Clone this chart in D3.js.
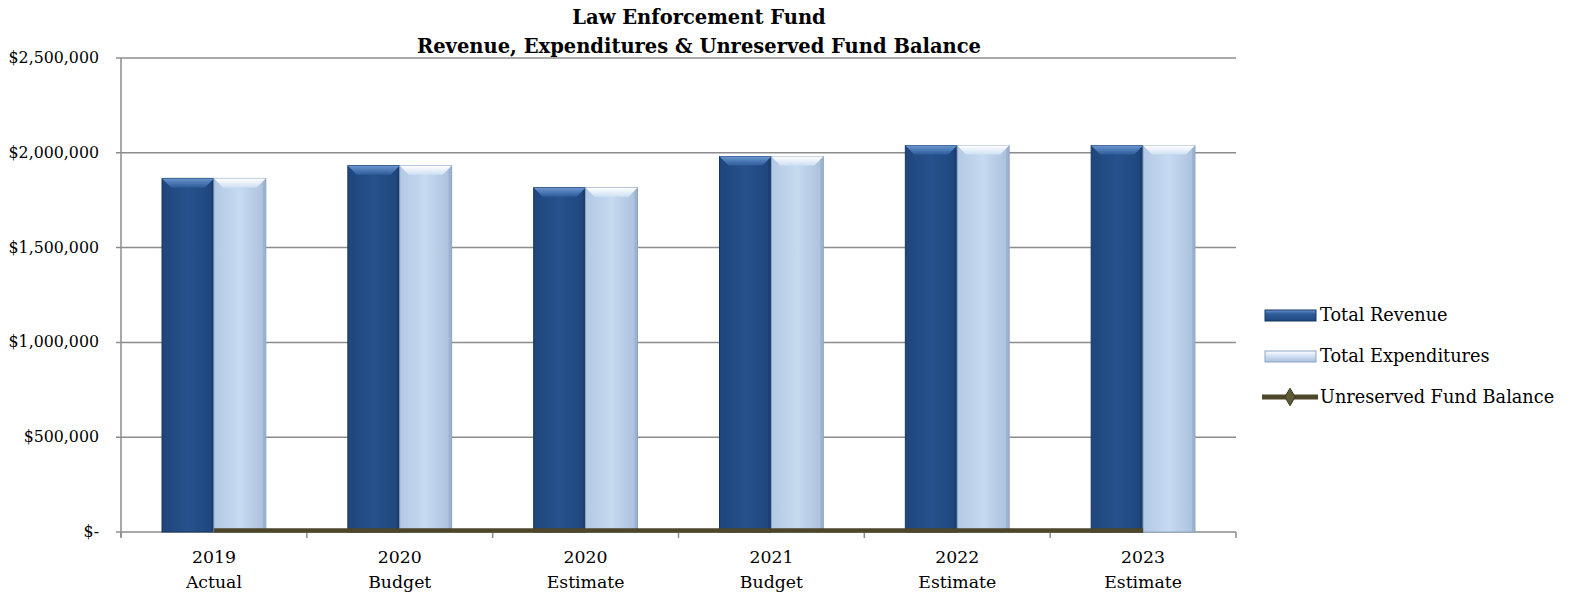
<!DOCTYPE html>
<html>
<head>
<meta charset="utf-8">
<script src="https://cdn.jsdelivr.net/npm/d3@7"></script>
<style>
  body { margin: 0; background: #fff; }
  svg text { font-family: "DejaVu Serif", serif; fill: #000; }
  .grid line { stroke: #8c8c8c; stroke-width: 1.5; }
</style>
</head>
<body>
<svg width="1572" height="600"></svg>
<script>
// chart data
const years = ["2019", "2020", "2020", "2021", "2022", "2023"];
const kinds = ["Actual", "Budget", "Estimate", "Budget", "Estimate", "Estimate"];
const revenue = [1865000, 1932000, 1816000, 1980000, 2038000, 2038000];
const expenditures = [1865000, 1932000, 1816000, 1980000, 2038000, 2038000];
const fundBalance = [8000, 8000, 8000, 8000, 8000, 8000];
const yTicks = [0, 500000, 1000000, 1500000, 2000000, 2500000];
const seriesNames = ["Total Revenue", "Total Expenditures", "Unreserved Fund Balance"];

const svg = d3.select("svg");
const plotL = 121, plotR = 1236, plotT = 58, plotB = 532;

let x = d3.scaleBand().domain(d3.range(6)).range([plotL, plotR]).paddingInner(0).paddingOuter(0);
let inner = d3.scaleBand().domain([0, 1]).range([0, x.bandwidth()]).paddingInner(0).paddingOuter(0.79);
let y = d3.scaleLinear().domain([0, 2500000]).range([plotB, plotT]);

let defs = svg.append("defs");
function grad(id, stops, vertical) {
    let g = defs.append("linearGradient").attr("id", id)
        .attr("x1", 0).attr("y1", 0).attr("x2", vertical ? 0 : 1).attr("y2", vertical ? 1 : 0);
    stops.forEach(s => g.append("stop").attr("offset", s[0]).attr("stop-color", s[1]));
}
grad("revBody", [[0, "#1f467c"], [0.5, "#26518c"], [1, "#1f467c"]], false);
grad("revCap", [[0, "#6a96d0"], [1, "#2e5c9a"]], true);
grad("expBody", [[0, "#b3c9e4"], [0.5, "#c6daf0"], [1, "#a9bfdb"]], false);
grad("expCap", [[0, "#ffffff"], [1, "#cfe0f3"]], true);
grad("revLeg", [[0, "#6a96d0"], [0.35, "#2e5c9a"], [1, "#1f467c"]], true);
grad("expLeg", [[0, "#ffffff"], [0.4, "#d6e4f4"], [1, "#a9bfdb"]], true);

// gridlines
let grid = svg.append("g").attr("class", "grid");
yTicks.forEach(t => {
    grid.append("line")
        .attr("x1", plotL - 5).attr("x2", plotR)
        .attr("y1", y(t)).attr("y2", y(t));
});
svg.append("line").attr("x1", plotL).attr("x2", plotL).attr("y1", plotT).attr("y2", plotB + 5)
    .attr("stroke", "#8c8c8c").attr("stroke-width", 1.5);

// y labels
svg.append("g").selectAll("text").data(yTicks).join("text")
    .attr("x", 99).attr("y", d => y(d) + 5)
    .attr("text-anchor", "end")
    .style("font-size", "15.8px")
    .text(d => d === 0 ? "$-" : d3.format("$,")(d));

// x ticks
svg.append("g").selectAll("line").data(d3.range(7)).join("line")
    .attr("x1", d => plotL + d * x.bandwidth()).attr("x2", d => plotL + d * x.bandwidth())
    .attr("y1", plotB).attr("y2", plotB + 6)
    .attr("stroke", "#8c8c8c").attr("stroke-width", 1.5);

// bars
function drawBar(g, bx, by, bw, bh, body, cap, edge) {
    g.append("rect").attr("x", bx).attr("y", by).attr("width", bw).attr("height", bh)
        .attr("fill", `url(#${body})`).attr("stroke", edge).attr("stroke-width", 1);
    const c = 9;
    g.append("path")
        .attr("d", `M${bx},${by} L${bx + bw},${by} L${bx + bw - c},${by + c} L${bx + c},${by + c} Z`)
        .attr("fill", `url(#${cap})`);
    g.append("path")
        .attr("d", `M${bx + bw},${by} L${bx + bw},${by + bh} L${bx + bw - 3},${by + bh} L${bx + bw - 3},${by + 3} Z`)
        .attr("fill", edge).attr("opacity", 0.5);
}
let bars = svg.append("g");
revenue.forEach((v, i) => {
    drawBar(bars, x(i) + inner(0), y(v), inner.bandwidth(), y(0) - y(v), "revBody", "revCap", "#163660");
});
expenditures.forEach((v, i) => {
    drawBar(bars, x(i) + inner(1), y(v), inner.bandwidth(), y(0) - y(v), "expBody", "expCap", "#8ea6c4");
});

// fund balance line
let line = d3.line().x((d, i) => x(i) + x.bandwidth() / 2).y(d => y(d));
svg.append("path").datum(fundBalance)
    .attr("d", line)
    .attr("fill", "none").attr("stroke", "#4d4628").attr("stroke-width", 4.5);

// x labels
let xl = svg.append("g");
years.forEach((yr, i) => {
    let t = xl.append("text").attr("x", x(i) + x.bandwidth() / 2).attr("text-anchor", "middle")
        .style("font-size", "17.3px");
    t.append("tspan").attr("x", x(i) + x.bandwidth() / 2).attr("y", 563).text(yr);
    t.append("tspan").attr("x", x(i) + x.bandwidth() / 2).attr("y", 588).text(kinds[i]);
});

// title
svg.append("text").attr("x", 699).attr("y", 24).attr("text-anchor", "middle")
    .style("font-size", "19.5px").style("font-weight", "bold").text("Law Enforcement Fund");
svg.append("text").attr("x", 699).attr("y", 53).attr("text-anchor", "middle")
    .style("font-size", "19.5px").style("font-weight", "bold")
    .text("Revenue, Expenditures & Unreserved Fund Balance");

// legend
let leg = svg.append("g");
const legY = [315, 356, 397];
leg.append("rect").attr("x", 1265).attr("y", legY[0] - 5).attr("width", 51).attr("height", 11)
    .attr("fill", "url(#revLeg)").attr("stroke", "#163660");
leg.append("rect").attr("x", 1265).attr("y", legY[1] - 5).attr("width", 51).attr("height", 11)
    .attr("fill", "url(#expLeg)").attr("stroke", "#8ea6c4");
leg.append("line").attr("x1", 1262).attr("x2", 1318).attr("y1", legY[2]).attr("y2", legY[2])
    .attr("stroke", "#4d4628").attr("stroke-width", 5);
leg.append("path").attr("d", d3.symbol(d3.symbolDiamond, 90)())
    .attr("transform", `translate(1290,${legY[2]})`).attr("fill", "#5e5a38").attr("stroke", "#3e3a20");
seriesNames.forEach((n, i) => {
    leg.append("text").attr("x", 1320).attr("y", legY[i] + 6).style("font-size", "17.7px").text(n);
});
</script>
</body>
</html>
